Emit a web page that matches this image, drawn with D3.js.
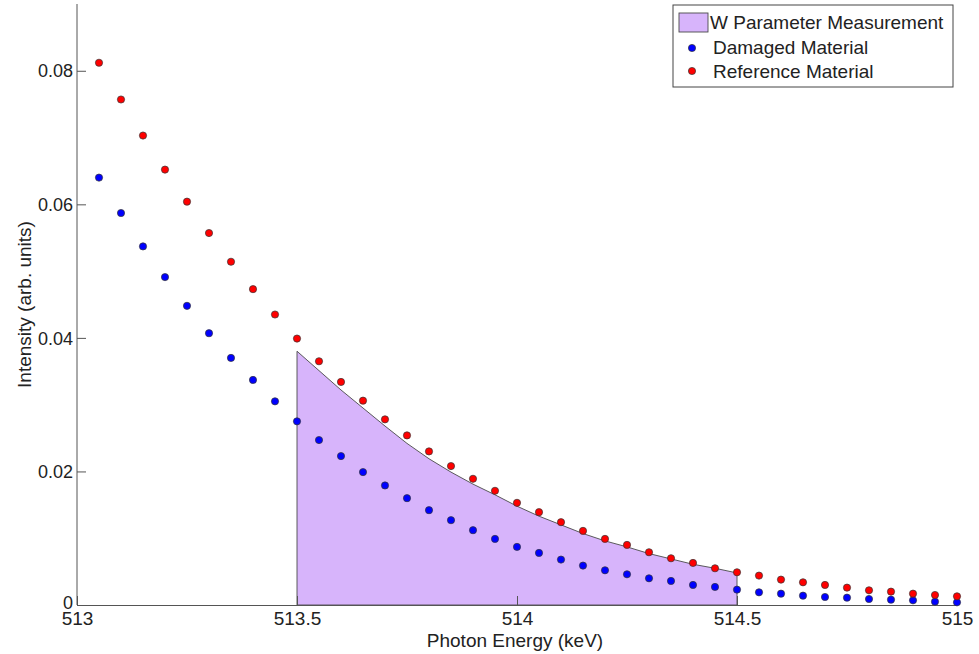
<!DOCTYPE html>
<html>
<head>
<meta charset="utf-8">
<script src="https://cdn.jsdelivr.net/npm/d3@7"></script>
<style>
  body { margin: 0; background: #fff; }
  text { font-family: Arial, "Liberation Sans", sans-serif; fill: #222; }
  .axis path, .axis line { stroke: #555; }
  .axis text { font-size: 19px; }
</style>
</head>
<body>
<div id="chart"></div>
<script>
"use strict";

// photon energies (keV) of the measured points
var energy = [513.05, 513.10, 513.15, 513.20, 513.25, 513.30, 513.35, 513.40, 513.45, 513.50,
  513.55, 513.60, 513.65, 513.70, 513.75, 513.80, 513.85, 513.90, 513.95, 514.00,
  514.05, 514.10, 514.15, 514.20, 514.25, 514.30, 514.35, 514.40, 514.45, 514.50,
  514.55, 514.60, 514.65, 514.70, 514.75, 514.80, 514.85, 514.90, 514.95, 515.00];

var damaged = [0.0640, 0.0587, 0.0537, 0.0491, 0.0448, 0.0407, 0.0370, 0.0337, 0.0305, 0.0275,
  0.0247, 0.0223, 0.0199, 0.0179, 0.0160, 0.0142, 0.0127, 0.0112, 0.0099, 0.0087,
  0.0078, 0.0068, 0.0059, 0.0052, 0.0046, 0.0040, 0.0036, 0.0030, 0.0027, 0.0023,
  0.0019, 0.0017, 0.0014, 0.0012, 0.0011, 0.0009, 0.0008, 0.0007, 0.0005, 0.0004];

var reference = [0.0812, 0.0757, 0.0703, 0.0652, 0.0604, 0.0557, 0.0514, 0.0473, 0.0435, 0.0399,
  0.0365, 0.0334, 0.0306, 0.0278, 0.0254, 0.0230, 0.0208, 0.0189, 0.0171, 0.0153,
  0.0139, 0.0124, 0.0111, 0.0099, 0.0090, 0.0079, 0.0070, 0.0063, 0.0055, 0.0049,
  0.0044, 0.0038, 0.0034, 0.0030, 0.0026, 0.0022, 0.0020, 0.0017, 0.0015, 0.0013];

// W parameter window (shaded region) 513.5 - 514.5 keV
var wEnergy = [513.50, 513.55, 513.60, 513.65, 513.70, 513.75, 513.80, 513.85, 513.90, 513.95, 514.00,
  514.05, 514.10, 514.15, 514.20, 514.25, 514.30, 514.35, 514.40, 514.45, 514.50];
var wCurve = [0.0380, 0.0351, 0.0322, 0.0295, 0.0268, 0.0242, 0.0219, 0.0199, 0.0181, 0.0165, 0.0148,
  0.0133, 0.0120, 0.0107, 0.0096, 0.0087, 0.0077, 0.0069, 0.0061, 0.0055, 0.0048];

var xTicks = [513, 513.5, 514, 514.5, 515];
var yTicks = [0, 0.02, 0.04, 0.06, 0.08];

var legendLabels = ["W Parameter Measurement", "Damaged Material", "Reference Material"];

function drawChart(w, h) {
  var margin = { top: 4, right: 22, bottom: 49, left: 77 };

  var xScale = d3.scaleLinear()
    .domain([513, 515])
    .range([margin.left, w - margin.right]);

  var yScale = d3.scaleLinear()
    .domain([0, 0.09])
    .range([h - margin.bottom, margin.top]);

  var svg = d3.select("#chart")
    .append("svg")
    .attr("width", w)
    .attr("height", h);

  //shaded W region
  var wData = wEnergy.map(function (e, i) { return { e: e, v: wCurve[i] }; });
  var area = d3.area()
    .x(function (d) { return xScale(d.e); })
    .y0(yScale(0))
    .y1(function (d) { return yScale(d.v); });

  svg.append("path")
    .datum(wData)
    .attr("d", area)
    .attr("fill", "#d7b4fb")
    .attr("stroke", "#4a4a4a")
    .attr("stroke-width", 0.9);

  //axes
  var xAxis = d3.axisBottom(xScale)
    .tickValues(xTicks)
    .tickSizeInner(-9)
    .tickSizeOuter(0)
    .tickPadding(6)
    .tickFormat(function (d) { return String(d); });

  var yAxis = d3.axisLeft(yScale)
    .tickValues(yTicks)
    .tickSizeInner(-9)
    .tickSizeOuter(0)
    .tickPadding(4)
    .tickFormat(function (d) { return d === 0 ? "0" : d3.format(".2f")(d); });

  var gx = svg.append("g")
    .attr("class", "axis")
    .attr("transform", "translate(0," + yScale(0) + ")")
    .call(xAxis);
  gx.selectAll("text").attr("dy", "0.75em");

  var gy = svg.append("g")
    .attr("class", "axis")
    .attr("transform", "translate(" + margin.left + ",0)")
    .call(yAxis);
  gy.select(".domain").attr("d", "M0," + yScale(0) + "V" + margin.top);
  gy.selectAll("text").attr("dy", "0.34em").style("font-size", "18px");
  //"0" sits a little higher so it clears the "513" label
  gy.selectAll(".tick").filter(function (d) { return d === 0; })
    .select("text").attr("dy", "0.2em");

  //markers
  var sets = [
    { vals: damaged, color: "#0000ff" },
    { vals: reference, color: "#ff0000" }
  ];
  sets.forEach(function (s) {
    svg.append("g")
      .selectAll("circle")
      .data(s.vals)
      .enter()
      .append("circle")
      .attr("cx", function (d, i) { return xScale(energy[i]); })
      .attr("cy", function (d) { return yScale(d); })
      .attr("r", 3.6)
      .attr("fill", s.color)
      .attr("stroke", "#333")
      .attr("stroke-width", 0.7);
  });

  //axis titles
  svg.append("text")
    .attr("x", 515)
    .attr("y", 647)
    .attr("text-anchor", "middle")
    .style("font-size", "19px")
    .text("Photon Energy (keV)");

  svg.append("text")
    .attr("transform", "translate(31," + yScale(0.045) + ") rotate(-90)")
    .attr("text-anchor", "middle")
    .style("font-size", "19px")
    .text("Intensity (arb. units)");

  //legend
  var lg = svg.append("g").attr("transform", "translate(673,5)");
  lg.append("rect")
    .attr("width", 280)
    .attr("height", 82)
    .attr("fill", "#fff")
    .attr("stroke", "#444")
    .attr("stroke-width", 1);

  lg.append("rect")
    .attr("x", 6).attr("y", 8)
    .attr("width", 29).attr("height", 19)
    .attr("fill", "#d7b4fb")
    .attr("stroke", "#4a4a4a")
    .attr("stroke-width", 0.9);

  lg.append("circle").attr("cx", 19).attr("cy", 43).attr("r", 3.6)
    .attr("fill", "#0000ff").attr("stroke", "#333").attr("stroke-width", 0.7);
  lg.append("circle").attr("cx", 19).attr("cy", 66).attr("r", 3.6)
    .attr("fill", "#ff0000").attr("stroke", "#333").attr("stroke-width", 0.7);

  var rowY = [17, 42, 66];
  var rowX = [37, 40, 40];
  lg.selectAll("text.lab")
    .data(legendLabels)
    .enter()
    .append("text")
    .attr("class", "lab")
    .attr("x", function (d, i) { return rowX[i]; })
    .attr("y", function (d, i) { return rowY[i]; })
    .attr("dy", "0.35em")
    .style("font-size", "19px")
    .text(function (d) { return d; });
}

function init() {
  drawChart(979, 654);
}

window.onload = init;
</script>
</body>
</html>
